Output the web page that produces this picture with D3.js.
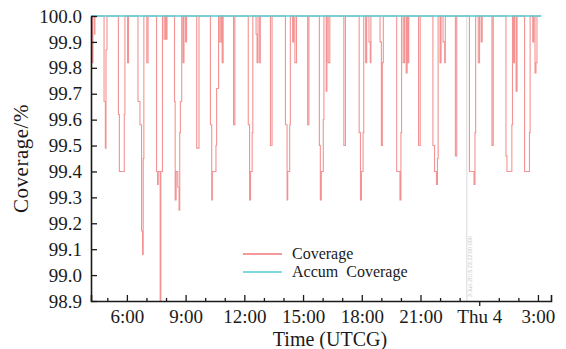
<!DOCTYPE html>
<html>
<head>
<meta charset="utf-8">
<script src="https://cdn.jsdelivr.net/npm/d3@7/dist/d3.min.js"></script>
<style>
html,body{margin:0;padding:0;background:#fff;}
svg{display:block;}
text{font-family:"Liberation Serif","Times New Roman",serif;fill:#1a1a1a;}
</style>
</head>
<body>
<svg id="chart" width="566" height="349"></svg>
<script>
// ---- data (UTC, 3 Jun 2015 04:10 -> 4 Jun 2015 03:40) ----
const axisStart = "04:10";
const axisEnd = "03:40";
const yTicks = [98.9, 99.0, 99.1, 99.2, 99.3, 99.4, 99.5, 99.6, 99.7, 99.8, 99.9, 100.0];
const seriesNames = ["Coverage", "Accum  Coverage"];
const markerTime = "23:22";
const markerText = "3 Jun 2015 23:22:00.000";

const covTime = [
"04:10","04:13","04:16","04:21","04:22","04:50","04:54","04:56","04:59",
"05:34","05:37","05:52","05:54","06:02","06:05",
"06:34","06:40","06:45","06:48","06:50","06:52","07:01","07:05",
"07:31","07:34","07:36","07:42","07:44","07:49","07:54","07:58","08:01","08:03",
"08:26","08:28","08:31","08:36","08:40","08:42","08:44","08:48","08:52","08:55","09:00","09:03",
"09:34","09:41",
"10:16","10:20","10:22","10:33","10:35","10:41","10:45","10:49","10:52","10:55",
"11:27","11:31",
"12:12","12:16","12:19","12:24","12:26","12:36","12:39","12:42","12:47","12:49",
"13:20","13:25",
"14:06","14:11","14:13","14:19","14:21","14:28","14:31","14:35","14:40",
"15:14","15:18",
"15:50","15:53","15:56","16:02","16:04","16:11","16:13","16:17","16:22",
"17:05","17:10",
"17:52","17:56","17:59","18:04","18:06","18:12","18:15","18:22","18:26","18:28",
"18:56","19:00","19:03","19:06",
"19:47","19:57","20:00","20:02","20:07","20:11","20:16","20:19","20:22","20:24",
"20:54","20:59",
"21:38","21:43","21:49","21:52","21:54","22:00","22:03","22:09","22:14","22:16",
"22:47","22:51",
"23:30","23:44","23:47","23:49","23:57","00:01","00:06","00:09",
"00:39","00:43",
"01:22","01:25","01:40","01:42","01:45","01:48","01:53","01:56",
"02:19","02:34","02:36","02:44","02:47","02:51","02:54","02:57","03:10"
];
const covValue = [
100,99.82,100,99.93,100,99.67,99.49,99.87,100,
99.62,99.40,99.62,100,99.82,100,
99.67,99.58,99.17,99.08,99.45,100,99.82,100,
99.40,99.35,99.40,98.90,99.40,100,99.91,100,99.91,100,
99.67,99.29,99.40,99.34,99.25,99.55,99.67,100,99.82,100,99.90,100,
99.49,100,
99.58,99.29,99.40,99.50,99.72,100,99.90,100,99.82,100,
99.58,100,
99.58,99.29,99.40,99.55,100,99.93,99.82,100,99.82,100,
99.50,100,
99.58,99.29,99.40,99.58,100,99.90,100,99.82,100,
99.58,100,
99.50,99.29,99.40,99.60,100,99.71,100,99.82,100,
99.50,100,
99.55,99.29,99.40,99.55,100,99.82,100,99.90,99.82,100,
99.90,99.50,99.82,100,
99.40,99.29,99.55,100,99.82,100,99.78,100,99.82,100,
99.50,100,
99.50,99.40,99.35,99.45,100,99.82,100,99.90,99.82,100,
99.46,100,
99.40,99.35,99.55,100,99.82,100,99.90,100,
99.50,100,
99.46,99.40,99.58,100,99.82,100,99.71,100,
99.40,99.55,100,99.90,100,99.78,99.82,100,100
];
const accTime = ["04:10","04:11","03:10"];
const accValue = [99.91, 100, 100];

// ---- helpers ----
function toDate(hm){
  const [h,m] = hm.split(":").map(Number);
  const day = h < 4 ? 4 : 3;
  return new Date(Date.UTC(2015, 5, day, h, m));
}

const mL = 91, mR = 551, mT = 16, mB = 301;
const serif = "'Liberation Serif', 'Times New Roman', serif";

const svg = d3.select("#chart");

const x = d3.scaleUtc().domain([toDate(axisStart), toDate(axisEnd)]).range([mL, mR]);
const y = d3.scaleLinear().domain([98.9, 100.0]).range([mB, mT]);

svg.append("defs").append("clipPath").attr("id","plotclip")
  .append("rect").attr("x", mL).attr("y", mT - 2).attr("width", mR - mL).attr("height", mB - mT + 2);

// marker line
const mx = x(toDate(markerTime));
svg.append("line")
  .attr("x1", mx).attr("x2", mx)
  .attr("y1", mT).attr("y2", mB)
  .attr("stroke", "#d9d9d9").attr("stroke-width", 1);
svg.append("text")
  .attr("transform", `translate(${mx + 5},${mB - 4}) rotate(-90)`)
  .style("font-size", "5.5px").style("fill", "#c8c8c8").style("font-family","'Liberation Sans', sans-serif")
  .text(markerText);

const line = d3.line().curve(d3.curveStepAfter)
  .x(d => x(d[0])).y(d => y(d[1]));

const covData = covTime.map((t,i) => [toDate(t), covValue[i]]);
const accData = accTime.map((t,i) => [toDate(t), accValue[i]]);

const g = svg.append("g").attr("clip-path","url(#plotclip)");
g.append("path").datum(covData).attr("d", line)
  .attr("fill","none").attr("stroke","#f07878").attr("stroke-opacity",0.8).attr("stroke-width",1.1);
g.append("path").datum(accData).attr("d", line)
  .attr("fill","none").attr("stroke","#55cdd6").attr("stroke-width",1.3);

// axes
const xAxis = d3.axisBottom(x)
  .ticks(d3.utcHour.every(1))
  .tickSizeInner(-3).tickSizeOuter(-6).tickPadding(9)
  .tickFormat(d => {
    const h = d.getUTCHours();
    if (h % 3 !== 0) return "";
    if (h === 0) return d3.utcFormat("%a %-d")(d);
    return h + ":00";
  });
const gx = svg.append("g").attr("transform", `translate(0,${mB})`).call(xAxis);
gx.selectAll(".tick line").each(function(d){
  const h = d.getUTCHours();
  const l = d3.select(this);
  if (h === 0) l.attr("y2", 5);
  else if (h % 3 === 0) l.attr("y2", -6);
});

const yAxis = d3.axisLeft(y).tickValues(yTicks).tickSizeInner(-6).tickSizeOuter(0).tickPadding(9)
  .tickFormat(d3.format(".1f"));
const gy = svg.append("g").attr("transform", `translate(${mL},0)`).call(yAxis);

[gx, gy].forEach(a => {
  a.attr("font-family", serif);
  a.select(".domain").attr("stroke","#1a1a1a").attr("stroke-width",1.6);
  a.selectAll(".tick line").attr("stroke","#1a1a1a").attr("stroke-width",1.3);
  a.selectAll(".tick text").style("font-size","19px").style("font-family", serif).attr("fill","#1a1a1a");
});

// axis titles
svg.append("text").attr("x", 330).attr("y", 346).attr("text-anchor","middle")
  .style("font-family", serif).style("font-size","20px").text("Time (UTCG)");
svg.append("text").attr("transform", `translate(28,${(mT+mB)/2}) rotate(-90)`)
  .attr("text-anchor","middle").style("font-family", serif).style("font-size","21px")
  .style("letter-spacing","0.5px").text("Coverage/%");

// legend
const legColors = ["#f07878", "#55cdd6"];
const leg = svg.append("g");
seriesNames.forEach((n,i) => {
  const yy = 254 + i*18;
  leg.append("line").attr("x1",243).attr("x2",282).attr("y1",yy).attr("y2",yy)
    .attr("stroke", legColors[i]).attr("stroke-width",1.5);
  leg.append("text").attr("x",292).attr("y",yy+5).style("font-family", serif).style("font-size","16px")
    .style("white-space","pre").attr("xml:space","preserve").text(n);
});
</script>
</body>
</html>
